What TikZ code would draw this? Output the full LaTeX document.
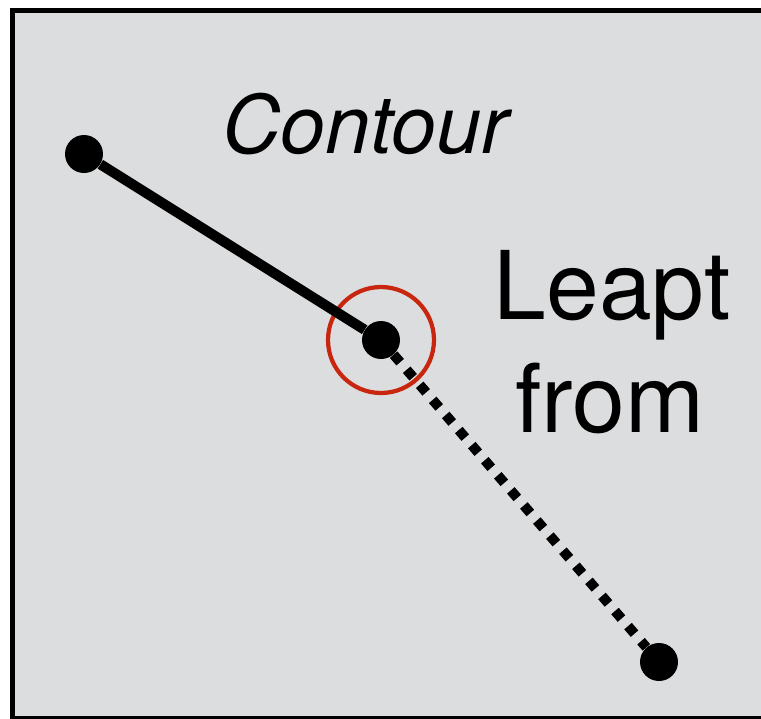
\documentclass[tikz,border=0pt]{standalone}
\usepackage{fontspec}
\setmainfont{TeX Gyre Heros}[FakeBold=-0.5]
\usepackage{xcolor}
\usepackage{tikz}
\usetikzlibrary{positioning}
\definecolor{panelgray}{HTML}{DCDDDF}
\definecolor{ringred}{HTML}{C8260E}
\tikzstyle{dot} = [circle, fill=black, inner sep=0pt, minimum size=0.76cm]
\tikzstyle{ring} = [circle, draw=ringred, line width=2.4pt, inner sep=0pt, minimum size=2.12cm]
\tikzstyle{contour} = [line width=5.8pt]
\tikzstyle{leap} = [line width=5.67pt, dash pattern=on 5.67pt off 5.67pt]
\tikzstyle{label} = [inner sep=0pt, anchor=base]

\begin{document}
\begin{tikzpicture}[x=0.02cm, y=-0.02cm]
\useasboundingbox (0,0) rectangle (761,718);
\clip (0,0) rectangle (761,718);
\draw[line width=2.83pt, fill=panelgray] (12.5,10.5) rectangle (764,718.5);
\node[dot] (start) at (84,154) {};
\node[dot] (jump) at (381,340) {};
\node[dot] (land) at (659,662) {};
\node[ring] (mark) at (381,340) {};
\draw[contour] (start) -- (jump);
\draw[leap] (jump) -- (land);
\node[label, font=\fontsize{46}{55}\selectfont\itshape] (name) at (365,153) {Contour};
\node[label, font=\fontsize{54}{64}\selectfont] (top) at (612,319) {Leapt};
\node[label, font=\fontsize{54}{64}\selectfont] (bottom) at (610,432) {from};
\end{tikzpicture}
\end{document}
